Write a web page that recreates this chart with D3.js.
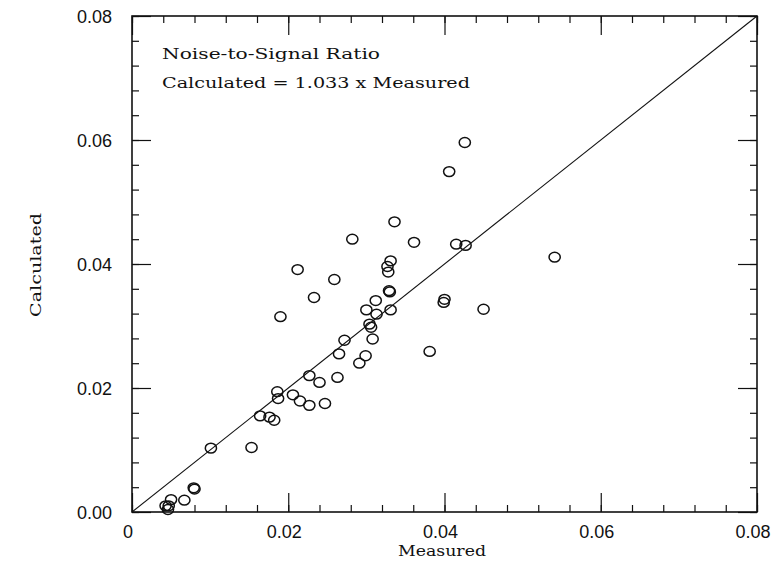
<!DOCTYPE html>
<html><head><meta charset="utf-8">
<script src="https://cdn.jsdelivr.net/npm/d3@7"></script>
<style>body{margin:0;background:#fff}svg{display:block}</style>
</head><body>
<svg id="c" width="771" height="564"></svg>
<script>
const measured = [0.0426,0.0406,0.0336,0.0282,0.0361,0.0415,0.0427,0.0541,0.0331,0.0327,0.0328,0.0329,0.0330,0.0312,0.0300,0.0313,0.0331,0.0304,0.0306,0.0308,0.0272,0.0265,0.0299,0.0291,0.0381,0.0400,0.0399,0.0450,0.0212,0.0259,0.0233,0.0190,0.0227,0.0240,0.0263,0.0186,0.0187,0.0206,0.0215,0.0227,0.0247,0.0164,0.0176,0.0182,0.0101,0.0153,0.0079,0.0080,0.0067,0.0050,0.0043,0.0047,0.0046];
const calculated = [0.0596,0.0549,0.0468,0.0440,0.0435,0.0432,0.0430,0.0411,0.0405,0.0396,0.0387,0.0357,0.0355,0.0341,0.0326,0.0319,0.0326,0.0303,0.0298,0.0279,0.0277,0.0255,0.0252,0.0240,0.0259,0.0343,0.0338,0.0327,0.0391,0.0375,0.0346,0.0315,0.0220,0.0209,0.0217,0.0194,0.0183,0.0189,0.0179,0.0172,0.0175,0.0155,0.0153,0.0148,0.0103,0.0104,0.0039,0.0037,0.0019,0.0020,0.0010,0.0010,0.0004];
const majorTicks = [0, 0.02, 0.04, 0.06, 0.08];
const xTickLabels = ["0", "0.02", "0.04", "0.06", "0.08"];
const yTickLabels = ["0.00", "0.02", "0.04", "0.06", "0.08"];
const minorTicks = d3.range(0, 0.0801, 0.004);
const fitLine = [[0, 0], [0.08, 0.08]];
const annotation = ["Noise-to-Signal Ratio", "Calculated = 1.033 x Measured"];

const svg = d3.select("#c");
const L = 132, R = 757, T = 16, B = 512;
const x = d3.scaleLinear().domain([0, 0.08]).range([L, R]);
const y = d3.scaleLinear().domain([0, 0.08]).range([B, T]);
const ink = "#111";

function ticks(axisGen, transform, vals, len) {
  svg.append("g").attr("transform", transform)
    .call(axisGen.tickValues(vals).tickSize(len).tickFormat(""))
    .call(g => g.select(".domain").remove())
    .call(g => g.selectAll("line").attr("stroke", ink).attr("stroke-width", 1.2));
}
ticks(d3.axisTop(x), `translate(0,${B})`, minorTicks, 7);
ticks(d3.axisTop(x), `translate(0,${B})`, majorTicks, 19);
ticks(d3.axisBottom(x), `translate(0,${T})`, minorTicks, 7);
ticks(d3.axisBottom(x), `translate(0,${T})`, majorTicks, 19);
ticks(d3.axisRight(y), `translate(${L},0)`, minorTicks, 7);
ticks(d3.axisRight(y), `translate(${L},0)`, majorTicks, 19);
ticks(d3.axisLeft(y), `translate(${R},0)`, minorTicks, 7);
ticks(d3.axisLeft(y), `translate(${R},0)`, majorTicks, 19);

svg.append("rect").attr("x", L).attr("y", T).attr("width", R - L).attr("height", B - T)
  .attr("fill", "none").attr("stroke", ink).attr("stroke-width", 1.6);

const sans = "Liberation Sans, Arial, sans-serif";
svg.append("g").selectAll("text").data(majorTicks).join("text")
  .attr("x", d => x(d) - 4).attr("y", B + 26).attr("text-anchor", "middle")
  .attr("font-family", sans).attr("font-size", 18).attr("fill", ink)
  .text((d, i) => xTickLabels[i]);
svg.append("g").selectAll("text").data(majorTicks).join("text")
  .attr("x", L - 20).attr("y", d => y(d) + 6.5).attr("text-anchor", "end")
  .attr("font-family", sans).attr("font-size", 18).attr("fill", ink)
  .text((d, i) => yTickLabels[i]);

svg.append("path").datum(fitLine)
  .attr("d", d3.line().x(d => x(d[0])).y(d => y(d[1])))
  .attr("fill", "none").attr("stroke", ink).attr("stroke-width", 1.1);

svg.append("g").selectAll("ellipse").data(measured).join("ellipse")
  .attr("cx", d => x(d)).attr("cy", (d, i) => y(calculated[i]))
  .attr("rx", 5.6).attr("ry", 4.9)
  .attr("fill", "none").attr("stroke", ink).attr("stroke-width", 1.5);

const serif = "DejaVu Serif, Liberation Serif, serif";
svg.append("text").attr("x", 162).attr("y", 59).attr("font-family", serif).attr("font-size", 14.5)
  .attr("textLength", 218).attr("lengthAdjust", "spacingAndGlyphs").attr("fill", ink).text(annotation[0]);
svg.append("text").attr("x", 162).attr("y", 88).attr("font-family", serif).attr("font-size", 14.5)
  .attr("textLength", 308).attr("lengthAdjust", "spacingAndGlyphs").attr("fill", ink).text(annotation[1]);

svg.append("text").attr("x", 442).attr("y", 556).attr("text-anchor", "middle")
  .attr("font-family", serif).attr("font-size", 14.5).attr("textLength", 88).attr("lengthAdjust", "spacingAndGlyphs")
  .attr("fill", ink).text("Measured");
svg.append("text").attr("transform", "translate(41,265) rotate(-90)").attr("text-anchor", "middle")
  .attr("font-family", serif).attr("font-size", 14.5).attr("textLength", 104).attr("lengthAdjust", "spacingAndGlyphs")
  .attr("fill", ink).text("Calculated");
</script>
</body></html>
